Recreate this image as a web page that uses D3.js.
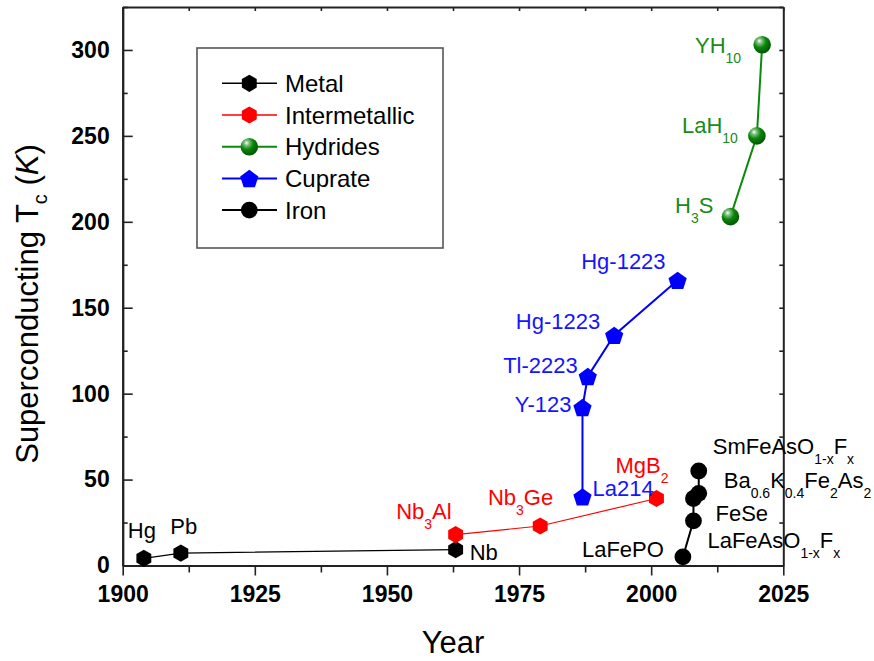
<!DOCTYPE html>
<html>
<head>
<meta charset="utf-8">
<script src="https://cdn.jsdelivr.net/npm/d3@7"></script>
<style>
  body { margin: 0; background: #fff; }
  text { font-family: "Liberation Sans", Arial, Helvetica, sans-serif; }
</style>
</head>
<body>
<svg id="chart" width="874" height="661"></svg>
<script>
// ---- data: discovery year and critical temperature (K) per family ----
const metalYears = [1904, 1911, 1963];
const metalTc = [4.2, 7.2, 9.2];
const metalNames = ["Hg", "Pb", "Nb"];

const interYears = [1963, 1979, 2001];
const interTc = [18, 23, 39];
const interNames = ["Nb_{3}Al", "Nb_{3}Ge", "MgB_{2}"];

const hydrideYears = [2015, 2020, 2021];
const hydrideTc = [203, 250, 303];
const hydrideNames = ["H_{3}S", "LaH_{10}", "YH_{10}"];

const cuprateYears = [1987, 1987, 1988, 1993, 2005];
const cuprateTc = [40, 92, 110, 134, 166];
const cuprateNames = ["La214", "Y-123", "Tl-2223", "Hg-1223", "Hg-1223"];

const ironYears = [2006, 2008, 2008, 2009, 2009];
const ironTc = [5, 26, 39, 42, 55];
const ironNames = ["LaFePO", "LaFeAsO_{1-x}F_{x}", "FeSe", "Ba_{0.6}K_{0.4}Fe_{2}As_{2}", "SmFeAsO_{1-x}F_{x}"];

const xTicks = [1900, 1925, 1950, 1975, 2000, 2025];
const yTicks = [0, 50, 100, 150, 200, 250, 300];
const legendLabels = ["Metal", "Intermetallic", "Hydrides", "Cuprate", "Iron"];

// ---- label placement relative to each marker: [anchor, dx, dy] ----
const metalLabelPos = [["middle", -2, -20], ["middle", 3, -19], ["start", 14, 10]];
const interLabelPos = [["end", -4, -16], ["end", 13, -21], ["end", 12, -25]];
const hydrideLabelPos = [["end", -17, -4], ["end", -19, -3], ["end", -21, 8]];
const cuprateLabelPos = [["start", 10, -1], ["end", -11, 5], ["end", -10, -3], ["end", -14, -6], ["end", -12, -11]];
const ironLabelPos = [["end", -19, 0], ["start", 14, 27], ["start", 22, 23], ["start", 25, -5], ["start", 14, -17]];

const svg = d3.select("#chart");
const plot = { left: 122.7, right: 783.3, top: 7, bottom: 565.5 };

const x = d3.scaleLinear().domain([1900, 2025]).range([plot.left, plot.right]);
const y = d3.scaleLinear().domain([0, 325]).range([plot.bottom, plot.top]);

// gradient for the glossy hydride spheres
const defs = svg.append("defs");
const grad = defs.append("radialGradient").attr("id", "sphere")
  .attr("cx", "38%").attr("cy", "32%").attr("r", "65%").attr("fx", "34%").attr("fy", "28%");
grad.append("stop").attr("offset", "0%").attr("stop-color", "#ffffff");
grad.append("stop").attr("offset", "22%").attr("stop-color", "#7fc07f");
grad.append("stop").attr("offset", "55%").attr("stop-color", "#0a870a");
grad.append("stop").attr("offset", "100%").attr("stop-color", "#005a00");

// ---- marker shapes ----
function polygonPath(n, r, rot) {
  const pts = d3.range(n).map(i => {
    const a = rot + i * 2 * Math.PI / n;
    return [r * Math.cos(a), r * Math.sin(a)];
  });
  return "M" + pts.map(p => p[0].toFixed(2) + "," + p[1].toFixed(2)).join("L") + "Z";
}
const hexPath = polygonPath(6, 8.6, -Math.PI / 2);
const pentPath = polygonPath(5, 9.6, -Math.PI / 2);

function drawMarker(g, kind, cx, cy) {
  if (kind === "hex-black") {
    g.append("path").attr("d", hexPath).attr("transform", `translate(${cx},${cy})`).attr("fill", "#000");
  } else if (kind === "hex-red") {
    g.append("path").attr("d", hexPath).attr("transform", `translate(${cx},${cy})`).attr("fill", "#ff0000");
  } else if (kind === "sphere") {
    g.append("circle").attr("cx", cx).attr("cy", cy).attr("r", 8.8).attr("fill", "url(#sphere)");
  } else if (kind === "pent") {
    g.append("path").attr("d", pentPath).attr("transform", `translate(${cx},${cy + 1})`).attr("fill", "#0000ff");
  } else {
    g.append("circle").attr("cx", cx).attr("cy", cy).attr("r", 8.4).attr("fill", "#000");
  }
}

// rich text with _{...} subscripts
function richText(g, str, px, py, anchor, color, size, subSize, subShift) {
  const t = g.append("text").attr("x", px).attr("y", py)
    .attr("text-anchor", anchor).attr("fill", color).style("font-size", size + "px");
  const re = /_\{([^}]*)\}/g;
  let last = 0, m, shifted = false;
  while ((m = re.exec(str)) !== null) {
    if (m.index > last) {
      t.append("tspan").attr("dy", shifted ? -subShift : 0).text(str.slice(last, m.index));
      shifted = false;
    }
    t.append("tspan").attr("dy", shifted ? 0 : subShift).style("font-size", subSize + "px").text(m[1]);
    shifted = true;
    last = re.lastIndex;
  }
  if (last < str.length) {
    t.append("tspan").attr("dy", shifted ? -subShift : 0).text(str.slice(last));
  }
  return t;
}

// ---- axes ----
const axisColor = "#222";
const minorX = d3.range(1900, 2025.01, 12.5).filter(v => !xTicks.includes(v));
const minorY = d3.range(0, 325.01, 25).filter(v => !yTicks.includes(v));

function styleAxis(g) {
  g.selectAll("path.domain").attr("stroke", axisColor).attr("stroke-width", 2);
  g.selectAll(".tick line").attr("stroke", axisColor).attr("stroke-width", 1.6);
}

const axisBottomG = svg.append("g").attr("transform", `translate(0,${plot.bottom})`)
  .call(d3.axisBottom(x).tickValues(xTicks).tickFormat(d3.format("d")).tickSize(10).tickSizeOuter(0).tickPadding(10));
axisBottomG.selectAll("text").style("font-size", "23px").style("font-weight", "bold").attr("fill", "#000");
styleAxis(axisBottomG);
const axisBottomMinorG = svg.append("g").attr("transform", `translate(0,${plot.bottom})`)
  .call(d3.axisBottom(x).tickValues(minorX).tickFormat("").tickSize(7).tickSizeOuter(0));
styleAxis(axisBottomMinorG);

const axisLeftG = svg.append("g").attr("transform", `translate(${plot.left},0)`)
  .call(d3.axisLeft(y).tickValues(yTicks).tickSize(-10).tickSizeOuter(0).tickPadding(13));
axisLeftG.selectAll("text").style("font-size", "23px").style("font-weight", "bold").attr("fill", "#000");
styleAxis(axisLeftG);
const axisLeftMinorG = svg.append("g").attr("transform", `translate(${plot.left},0)`)
  .call(d3.axisLeft(y).tickValues(minorY).tickFormat("").tickSize(-5).tickSizeOuter(0));
styleAxis(axisLeftMinorG);

const axisTopG = svg.append("g").attr("transform", `translate(0,${plot.top})`)
  .call(d3.axisTop(x).tickValues(xTicks.concat(minorX)).tickFormat("").tickSize(-4).tickSizeOuter(0));
styleAxis(axisTopG);
const axisRightG = svg.append("g").attr("transform", `translate(${plot.right},0)`)
  .call(d3.axisRight(y).tickValues(yTicks.concat(minorY)).tickFormat("").tickSize(-4).tickSizeOuter(0));
styleAxis(axisRightG);

// axis titles
svg.append("text").attr("x", (plot.left + plot.right) / 2).attr("y", 653)
  .attr("text-anchor", "middle").style("font-size", "31px").attr("fill", "#000").text("Year");

const yTitle = svg.append("text").attr("transform", "translate(38,304) rotate(-90)")
  .attr("text-anchor", "middle").style("font-size", "31px").attr("fill", "#000");
yTitle.append("tspan").text("Superconducting T");
yTitle.append("tspan").attr("dy", 9).style("font-size", "20px").text("c");
yTitle.append("tspan").attr("dy", -9).text(" (");
yTitle.append("tspan").style("font-style", "italic").text("K");
yTitle.append("tspan").text(")");

// ---- series ----
const series = [
  { years: metalYears, tc: metalTc, names: metalNames, pos: metalLabelPos, color: "#000", text: "#000", width: 1.2, marker: "hex-black" },
  { years: interYears, tc: interTc, names: interNames, pos: interLabelPos, color: "#ff0000", text: "#ff0000", width: 1.2, marker: "hex-red" },
  { years: hydrideYears, tc: hydrideTc, names: hydrideNames, pos: hydrideLabelPos, color: "#0a8a0a", text: "#1a8a1a", width: 2, marker: "sphere" },
  { years: cuprateYears, tc: cuprateTc, names: cuprateNames, pos: cuprateLabelPos, color: "#0000ff", text: "#1414ff", width: 2, marker: "pent" },
  { years: ironYears, tc: ironTc, names: ironNames, pos: ironLabelPos, color: "#000", text: "#000", width: 2, marker: "circle" }
];

const line = d3.line().x(d => x(d[0])).y(d => y(d[1]));
const linesG = svg.append("g");
const marksG = svg.append("g");
const labelsG = svg.append("g");

series.forEach(s => {
  const pts = s.years.map((yr, i) => [yr, s.tc[i]]);
  linesG.append("path").attr("d", line(pts)).attr("fill", "none")
    .attr("stroke", s.color).attr("stroke-width", s.width);
  pts.forEach((p, i) => {
    const cx = x(p[0]), cy = y(p[1]);
    drawMarker(marksG, s.marker, cx, cy);
    const [anchor, dx, dy] = s.pos[i];
    richText(labelsG, s.names[i], cx + dx, cy + dy, anchor, s.text, 22, 14, 10);
  });
});

// ---- legend ----
const legend = svg.append("g");
legend.append("rect").attr("x", 197).attr("y", 48).attr("width", 246).attr("height", 200)
  .attr("fill", "#fff").attr("stroke", "#555").attr("stroke-width", 1.6);
legendLabels.forEach((lab, i) => {
  const s = series[i];
  const ly = 83.3 + i * 31.7;
  legend.append("line").attr("x1", 222).attr("x2", 277).attr("y1", ly).attr("y2", ly)
    .attr("stroke", s.color).attr("stroke-width", s.width === 2 ? 2 : 1.5);
  drawMarker(legend, s.marker, 249.3, ly);
  legend.append("text").attr("x", 285).attr("y", ly + 8.5).style("font-size", "24px")
    .attr("fill", "#000").text(lab);
});
</script>
</body>
</html>
